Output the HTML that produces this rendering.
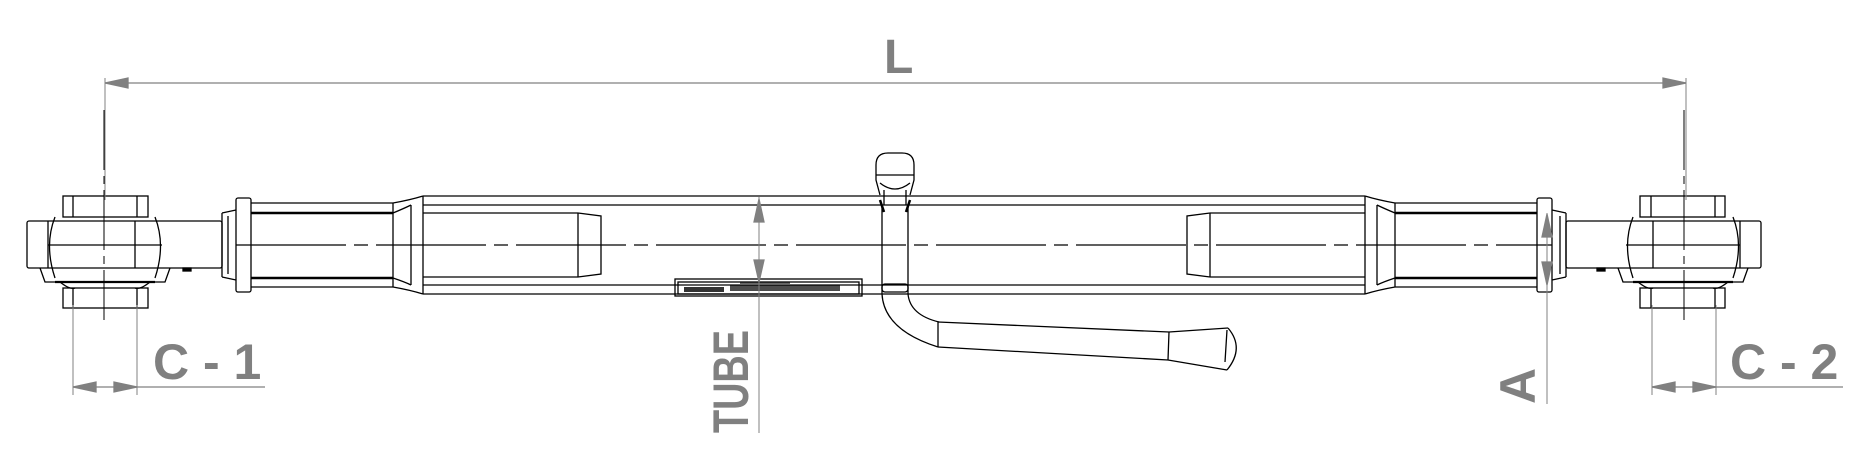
<!DOCTYPE html>
<html><head><meta charset="utf-8"><style>
html,body{margin:0;padding:0;background:#fff;}
svg{display:block}
text{font-family:"Liberation Sans",sans-serif;font-weight:bold;fill:#808080}
</style></head><body>
<svg width="1864" height="474" viewBox="0 0 1864 474" xmlns="http://www.w3.org/2000/svg">
<defs>
<g id="eye" fill="none" stroke="#000" stroke-width="1.3">
  <rect x="63" y="196" width="85" height="21"/>
  <line x1="73" y1="196" x2="73" y2="217"/><line x1="137" y1="196" x2="137" y2="217"/>
  <path d="M55 217 Q44 245 55 278 M155 217 Q166 245 155 278"/>
  <rect x="27" y="221" width="195" height="47" rx="2"/>
  <line x1="48" y1="245" x2="162" y2="245"/>
  <line x1="135" y1="221" x2="135" y2="268"/>
  <line x1="48" y1="221" x2="48" y2="268"/>
  <path d="M40 268 L45 282 L165 282 L170 268"/>
  <line x1="55" y1="282" x2="155" y2="282" stroke-width="2.2"/>
  <path d="M60 282 Q70 290 75 288 M150 282 Q140 290 135 288"/>
  <rect x="63" y="288" width="85" height="20"/>
  <line x1="73" y1="288" x2="73" y2="308"/><line x1="137" y1="288" x2="137" y2="308"/>
  <rect x="183" y="268" width="8" height="3" fill="#000"/>
  <path d="M222 213 L236 210 M222 277 L236 280 M222 213 L222 277 M228 216 L228 274"/>
  <rect x="236" y="198" width="15" height="94" rx="2"/>
  <line x1="251" y1="203" x2="393" y2="203"/>
  <line x1="251" y1="287" x2="393" y2="287"/>
  <line x1="251" y1="213" x2="393" y2="213" stroke-width="2.4"/>
  <line x1="251" y1="278" x2="393" y2="278" stroke-width="2.4"/>
  <line x1="393" y1="203" x2="393" y2="287"/>
  <path d="M393 203 Q410 200 423 196 M393 287 Q410 290 423 294"/>
  <path d="M393 213 Q405 208 411 205 M393 278 Q405 282 411 285"/>
  <line x1="411" y1="205" x2="411" y2="285"/>
  <line x1="423" y1="196" x2="423" y2="294"/>
  <line x1="423" y1="213" x2="578" y2="213"/>
  <line x1="423" y1="277" x2="578" y2="277"/>
  <line x1="578" y1="213" x2="578" y2="277"/>
  <path d="M578 213 L601 216 L601 274 L578 277"/>
  <line x1="104" y1="110" x2="104" y2="320" stroke-dasharray="60 6 8 6" stroke-width="1"/>
</g>
</defs>
<use href="#eye"/>
<use href="#eye" transform="translate(1788,0) scale(-1,1)"/>
<g fill="none" stroke="#000" stroke-width="1.3">
  <line x1="423" y1="196" x2="1365" y2="196"/>
  <line x1="423" y1="205" x2="1365" y2="205"/>
  <line x1="423" y1="285" x2="1365" y2="285"/>
  <line x1="423" y1="294" x2="1365" y2="294"/>
  <line x1="236" y1="245" x2="1552" y2="245" stroke-dasharray="110 8 14 8"/>
  <path d="M882 294 L882 205 M908 294 L908 205"/>
  <path d="M880 195 L876 180 L876 165 Q876 153 888 153 L902 153 Q914 153 914 165 L914 180 L910 195"/>
  <path d="M876 175 L914 175 M880 183 Q895 195 910 183 M884 190 L884 205 M906 190 L906 205"/>
  <path d="M880 200 L884 212 M910 200 L906 212" stroke-width="2.5"/>
  <rect x="882" y="284" width="26" height="8" rx="3"/>
  <path d="M882 294 Q884 330 938 347 M908 294 Q910 315 939 322"/>
  <line x1="938" y1="322" x2="938" y2="347"/>
  <path d="M938 322 L1169 332 L1228 328 M938 347 L1168 360 L1227 370"/>
  <path d="M1169 332 L1168 360 M1227 330 L1225 362 M1228 328 Q1245 348 1227 370"/>
  <rect x="675" y="279" width="187" height="17"/>
  <rect x="678" y="282" width="181" height="12"/>
</g>
<g fill="#000">
  <rect x="684" y="287" width="40" height="5" opacity=".8"/>
  <rect x="730" y="285" width="110" height="6" opacity=".7"/>
  <rect x="740" y="282" width="50" height="2" opacity=".6"/>
</g>
<g stroke="#808080" stroke-width="1.3" fill="#808080">
  <line x1="105" y1="83" x2="1686" y2="83"/>
  <line x1="105" y1="78" x2="105" y2="200" stroke-width="1"/>
  <line x1="1686" y1="78" x2="1686" y2="200" stroke-width="1"/>
  <polygon points="105,83 128,78 128,88"/>
  <polygon points="1686,83 1663,78 1663,88"/>
  <line x1="759" y1="197" x2="759" y2="433" stroke-width="1"/>
  <polygon points="759,199 754,222 764,222"/>
  <polygon points="759,282 754,260 764,260"/>
  <line x1="1547" y1="213" x2="1547" y2="404" stroke-width="1"/>
  <polygon points="1547,214 1542,237 1552,237"/>
  <polygon points="1547,285 1542,262 1552,262"/>
  <line x1="73" y1="305" x2="73" y2="395" stroke-width="1"/>
  <line x1="137" y1="305" x2="137" y2="395" stroke-width="1"/>
  <line x1="73" y1="387" x2="265" y2="387"/>
  <polygon points="73,387 96,382 96,392"/><polygon points="137,387 114,382 114,392"/>
  <line x1="1652" y1="305" x2="1652" y2="395" stroke-width="1"/>
  <line x1="1716" y1="305" x2="1716" y2="395" stroke-width="1"/>
  <line x1="1652" y1="387" x2="1843" y2="387"/>
  <polygon points="1652,387 1675,382 1675,392"/><polygon points="1716,387 1693,382 1693,392"/>
</g>
<text x="884" y="73" font-size="48">L</text>
<text x="153" y="379" font-size="50">C - 1</text>
<text x="1730" y="379" font-size="50">C - 2</text>
<text transform="translate(748,433) rotate(-90)" font-size="50" textLength="103" lengthAdjust="spacingAndGlyphs">TUBE</text>
<text transform="translate(1535,404) rotate(-90)" font-size="50">A</text>
</svg>
</body></html>
